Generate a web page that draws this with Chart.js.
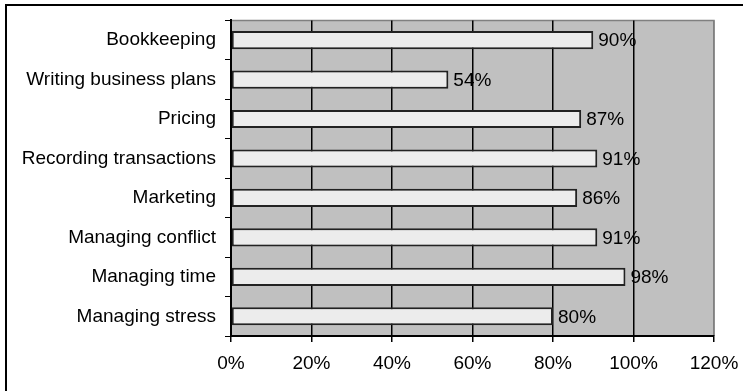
<!DOCTYPE html>
<html>
<head>
<meta charset="utf-8">
<script src="https://cdn.jsdelivr.net/npm/chart.js@4.4.0/dist/chart.umd.min.js"></script>
<style>
  body { margin: 0; background: #fff; }
  #wrap { position: relative; width: 743px; height: 391px; overflow: hidden; }
  #frame { position: absolute; left: 5px; top: 4px; width: 800px; height: 500px; border: 2px solid #000; }
  #chart { position: absolute; left: 0; top: 0; }
</style>
</head>
<body>
<div id="wrap">
  <div id="frame"></div>
  <canvas id="chart" width="743" height="391"></canvas>
</div>
<script>
const categories = ["Bookkeeping", "Writing business plans", "Pricing", "Recording transactions",
  "Marketing", "Managing conflict", "Managing time", "Managing stress"];
const values = [90, 54, 87, 91, 86, 91, 98, 80];
const tickLabels = ["0%", "20%", "40%", "60%", "80%", "100%", "120%"];

const FONT = "'Liberation Sans', Arial, sans-serif";

const plotBackground = {
  id: "plotBackground",
  beforeDraw(chart) {
    const {ctx, chartArea: a} = chart;
    ctx.save();
    ctx.fillStyle = "#c0c0c0";
    ctx.fillRect(a.left, a.top, a.right - a.left, a.bottom - a.top);
    ctx.strokeStyle = "#808080";
    ctx.lineWidth = 1.5;
    ctx.beginPath();
    ctx.moveTo(a.left, a.top);
    ctx.lineTo(a.right, a.top);
    ctx.lineTo(a.right, a.bottom);
    ctx.stroke();
    ctx.restore();
  }
};

const valueLabels = {
  id: "valueLabels",
  afterDatasetsDraw(chart) {
    const {ctx} = chart;
    const meta = chart.getDatasetMeta(0);
    ctx.save();
    ctx.font = "19px " + FONT;
    ctx.fillStyle = "#000";
    ctx.textAlign = "left";
    ctx.textBaseline = "middle";
    meta.data.forEach((bar, i) => {
      ctx.fillText(values[i] + "%", bar.x + 5, bar.y + 1);
    });
    ctx.restore();
  }
};

new Chart(document.getElementById("chart"), {
  type: "bar",
  data: {
    labels: categories,
    datasets: [{
      data: values,
      backgroundColor: "#ececec",
      borderColor: "#222",
      borderWidth: 2,
      borderSkipped: false,
      categoryPercentage: 1,
      barPercentage: 0.46
    }]
  },
  options: {
    indexAxis: "y",
    responsive: false,
    animation: false,
    devicePixelRatio: 1,
    layout: { padding: { top: 19, right: 29, left: 0, bottom: 0 } },
    plugins: { legend: { display: false }, tooltip: { enabled: false } },
    scales: {
      x: {
        min: 0,
        max: 120,
        ticks: {
          stepSize: 20,
          color: "#000",
          font: { size: 19, family: FONT },
          padding: 10,
          callback: (v) => tickLabels[v / 20]
        },
        grid: {
          color: (c) => c.tick && c.tick.value === 120 ? "#808080" : "#000",
          lineWidth: 1.5,
          tickLength: 6,
          tickColor: "#000"
        },
        border: { color: "#000", width: 2 },
        afterFit(scale) {
          scale.height = 55;
          scale.paddingLeft = 0;
          scale.paddingRight = 0;
        }
      },
      y: {
        ticks: {
          color: "#000",
          font: { size: 19, family: FONT },
          padding: 9
        },
        grid: {
          drawOnChartArea: false,
          color: "#000",
          tickLength: 6,
          offset: true
        },
        border: { color: "#000", width: 2 },
        afterFit(scale) { scale.width = 231; }
      }
    }
  },
  plugins: [plotBackground, valueLabels]
});
</script>
</body>
</html>
